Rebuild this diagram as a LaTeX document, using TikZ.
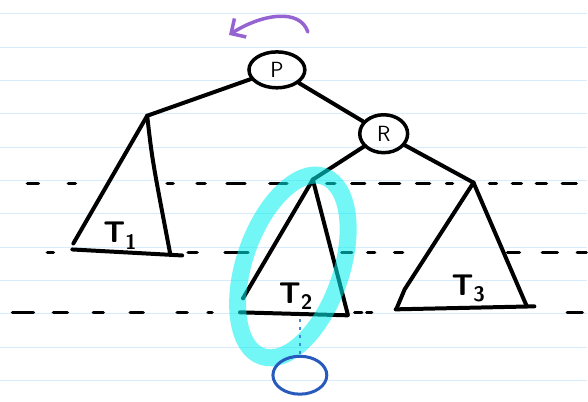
\documentclass[tikz,border=0pt]{standalone}
\usepackage{tikz}
\usetikzlibrary{arrows.meta, positioning, shapes.geometric}
\definecolor{ruleblue}{RGB}{215,235,250}
\definecolor{highlight}{RGB}{0,240,240}
\definecolor{rotpurple}{RGB}{150,100,210}
\definecolor{newleaf}{RGB}{40,90,190}
\definecolor{dotblue}{RGB}{60,140,220}

\begin{document}
\begin{tikzpicture}[x=1pt, y=-1pt,
  edge/.style={line width=4pt, line cap=round, line join=round},
  vert/.style={ellipse, draw, line width=3.5pt, inner sep=0pt,
               font=\sffamily\fontsize{22}{22}\selectfont},
  guide/.style={line width=3.5pt, line cap=round},
  lbl/.style={font=\sffamily\bfseries\fontsize{30}{30}\selectfont}]

  % Paper
  \fill[white] (0,0) rectangle (588,402);
  \foreach \k in {0,...,11}
    \draw[ruleblue, line width=1pt] (0,{14+33.4*\k}) -- (588,{14+33.4*\k});

  % Height guides
  \foreach \a/\b in {27/38, 68/75, 167/173, 197/205, 227/245, 270/287,
                     327/335, 352/365, 380/400, 417/430, 447/453, 490/497,
                     513/522, 537/547, 563/577}
    \draw[guide] (\a,184) -- (\b,184);
  \foreach \a/\b in {47/53, 188/197, 225/248, 342/352, 368/375, 395/403,
                     508/520, 543/558, 578/587}
    \draw[guide] (\a,253) -- (\b,253);
  \foreach \a/\b in {12/33, 53/67, 93/103, 130/143, 177/187, 208/212,
                     355/362, 367/372, 568/583}
    \draw[guide] (\a,313) -- (\b,313);

  % Nodes
  \node[vert, minimum width=56pt, minimum height=36pt] (P) at (277,70) {P};
  \node[vert, minimum width=48pt, minimum height=38pt] (R) at (384,134) {R};
  \coordinate (L) at (147,116);
  \coordinate (T2top) at (313,180);
  \coordinate (T3top) at (474,183);

  % Rotation
  \coordinate (rotA) at (308,32);
  \coordinate (rotB) at (229,35);
  \draw[rotpurple, line width=3.5pt, line cap=round,
        -{Straight Barb[length=11pt, width=22pt, line width=3.5pt]}]
    (rotA) .. controls (300,8) and (262,14) .. (rotB);

  % Edges
  \draw[edge] (P) -- (L);
  \draw[edge] (P) -- (R);
  \draw[edge] (R) -- (T2top);
  \draw[edge] (R) -- (T3top);

  % T1
  \draw[edge] (L) -- (73,244);
  \draw[edge] (L) .. controls (152,160) .. (170,254);
  \draw[edge] (72,250) -- (182,256);
  \node[lbl] (t1) at (120,236) {T\textsubscript{1}};

  % T2
  \draw[edge] (T2top) -- (243,299);
  \draw[edge] (T2top) -- (348,315);
  \draw[edge] (240,313) -- (348,316);
  \node[lbl] (t2) at (296,297) {T\textsubscript{2}};

  % T3
  \draw[edge] (T3top) -- (405,290) -- (397,309);
  \draw[edge] (T3top) -- (527,306);
  \draw[edge] (396,310) -- (535,307);
  \node[lbl] (t3) at (469,289) {T\textsubscript{3}};

  % Highlight
  \draw[highlight, line width=17pt, opacity=0.55,
        rotate around={-19:(293,267)}] (293,267) ellipse (48.5 and 95.4);

  % New leaf
  \coordinate (T2bot) at (300,320);
  \node[ellipse, draw=newleaf, line width=3pt, minimum width=54pt,
        minimum height=38pt] (new) at (300,376) {};
  \draw[dotblue, line width=2.5pt, dash pattern=on 3pt off 5pt] (T2bot) -- (new);
\end{tikzpicture}
\end{document}
